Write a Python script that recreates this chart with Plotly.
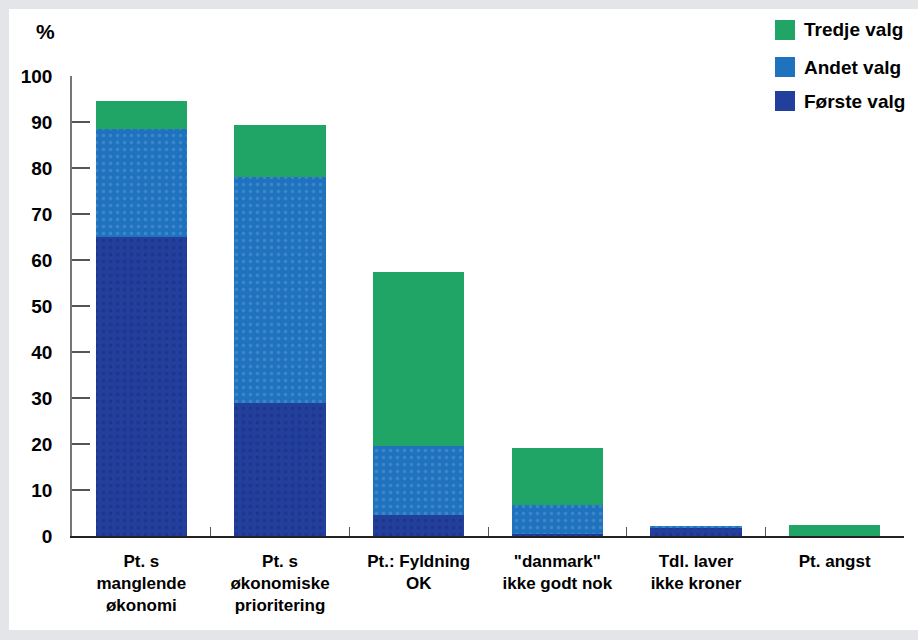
import plotly.graph_objects as go

categories = ["Pt. s<br>manglende<br>økonomi", "Pt. s<br>økonomiske<br>prioritering",
              "Pt.: Fyldning<br>OK", "\"danmark\"<br>ikke godt nok",
              "Tdl. laver<br>ikke kroner", "Pt. angst"]
forste = [65, 29, 4.5, 0.5, 1.8, 0]
andet = [23.5, 49, 15, 6.2, 0.4, 0]
tredje = [6, 11.3, 38, 12.5, 0, 2.5]
series_names = ["Første valg", "Andet valg", "Tredje valg"]
ytick_vals = list(range(0, 101, 10))

col_forste = "#233f9c"
col_andet = "#1f72bd"
col_tredje = "#20a567"
colors = [col_forste, col_andet, col_tredje]

fig = go.Figure()
fig.add_trace(go.Bar(x=categories, y=forste, name=series_names[0], marker_color=col_forste,
                     marker_line_width=0,
                     marker_pattern=dict(shape=".", fgcolor="#172d80", size=7, solidity=0.25)))
fig.add_trace(go.Bar(x=categories, y=andet, name=series_names[1], marker_color=col_andet,
                     marker_line_width=0,
                     marker_pattern=dict(shape=".", fgcolor="#5a9ad6", size=7, solidity=0.2)))
fig.add_trace(go.Bar(x=categories, y=tredje, name=series_names[2], marker_color=col_tredje,
                     marker_line_width=0))

L, R, T, B = 72, 14, 76, 104
W, H = 918, 640
pw = W - L - R
ph = H - T - B

def px_x(px):
    return (px - L) / pw

def px_y(py):
    return (H - B - py) / ph

fig.add_shape(type="rect", xref="paper", yref="paper",
              x0=px_x(9), x1=px_x(930), y0=px_y(9), y1=px_y(630),
              fillcolor="white", line_width=0, layer="below")

fig.add_annotation(text="<b>%</b>", xref="paper", yref="paper", x=px_x(45), y=px_y(31),
                   xanchor="center", yanchor="middle",
                   showarrow=False, font=dict(size=21, color="black", family="Liberation Sans"))

# legend (top right): Tredje, Andet, Første
legend_y = [30, 67, 101]
for name, col, ly in zip(series_names[::-1], colors[::-1], legend_y):
    fig.add_shape(type="rect", xref="paper", yref="paper",
                  x0=px_x(775), x1=px_x(795), y0=px_y(ly - 10), y1=px_y(ly + 10),
                  fillcolor=col, line_width=0)
    fig.add_annotation(text=name, xref="paper", yref="paper", x=px_x(802), y=px_y(ly),
                       xanchor="left", yanchor="middle", showarrow=False,
                       font=dict(size=19, color="black", family="Liberation Sans", weight="bold"))

fig.update_layout(
    width=W, height=H,
    margin=dict(l=L, r=R, t=T, b=B),
    paper_bgcolor="#e4e5e8",
    plot_bgcolor="rgba(0,0,0,0)",
    barmode="stack",
    bargap=0.34,
    font=dict(family="Liberation Sans", color="black"),
    showlegend=False,
)
fig.update_xaxes(showgrid=False, showline=True, linecolor="#222", linewidth=1.5,
                 ticks="inside", tickson="boundaries", ticklen=9, tickcolor="#555",
                 tickfont=dict(size=17, color="black", weight="bold"), ticklabelstandoff=9,
                 fixedrange=True)
fig.update_yaxes(range=[0, 100], tickvals=ytick_vals, showgrid=False, zeroline=False,
                 showline=True, linecolor="#777", linewidth=1.5,
                 ticks="inside", ticklen=18, tickcolor="#555", tickwidth=1.5,
                 tickfont=dict(size=19, color="black", weight="bold"),
                 ticklabelstandoff=14, fixedrange=True)

fig.write_html("out.html")
